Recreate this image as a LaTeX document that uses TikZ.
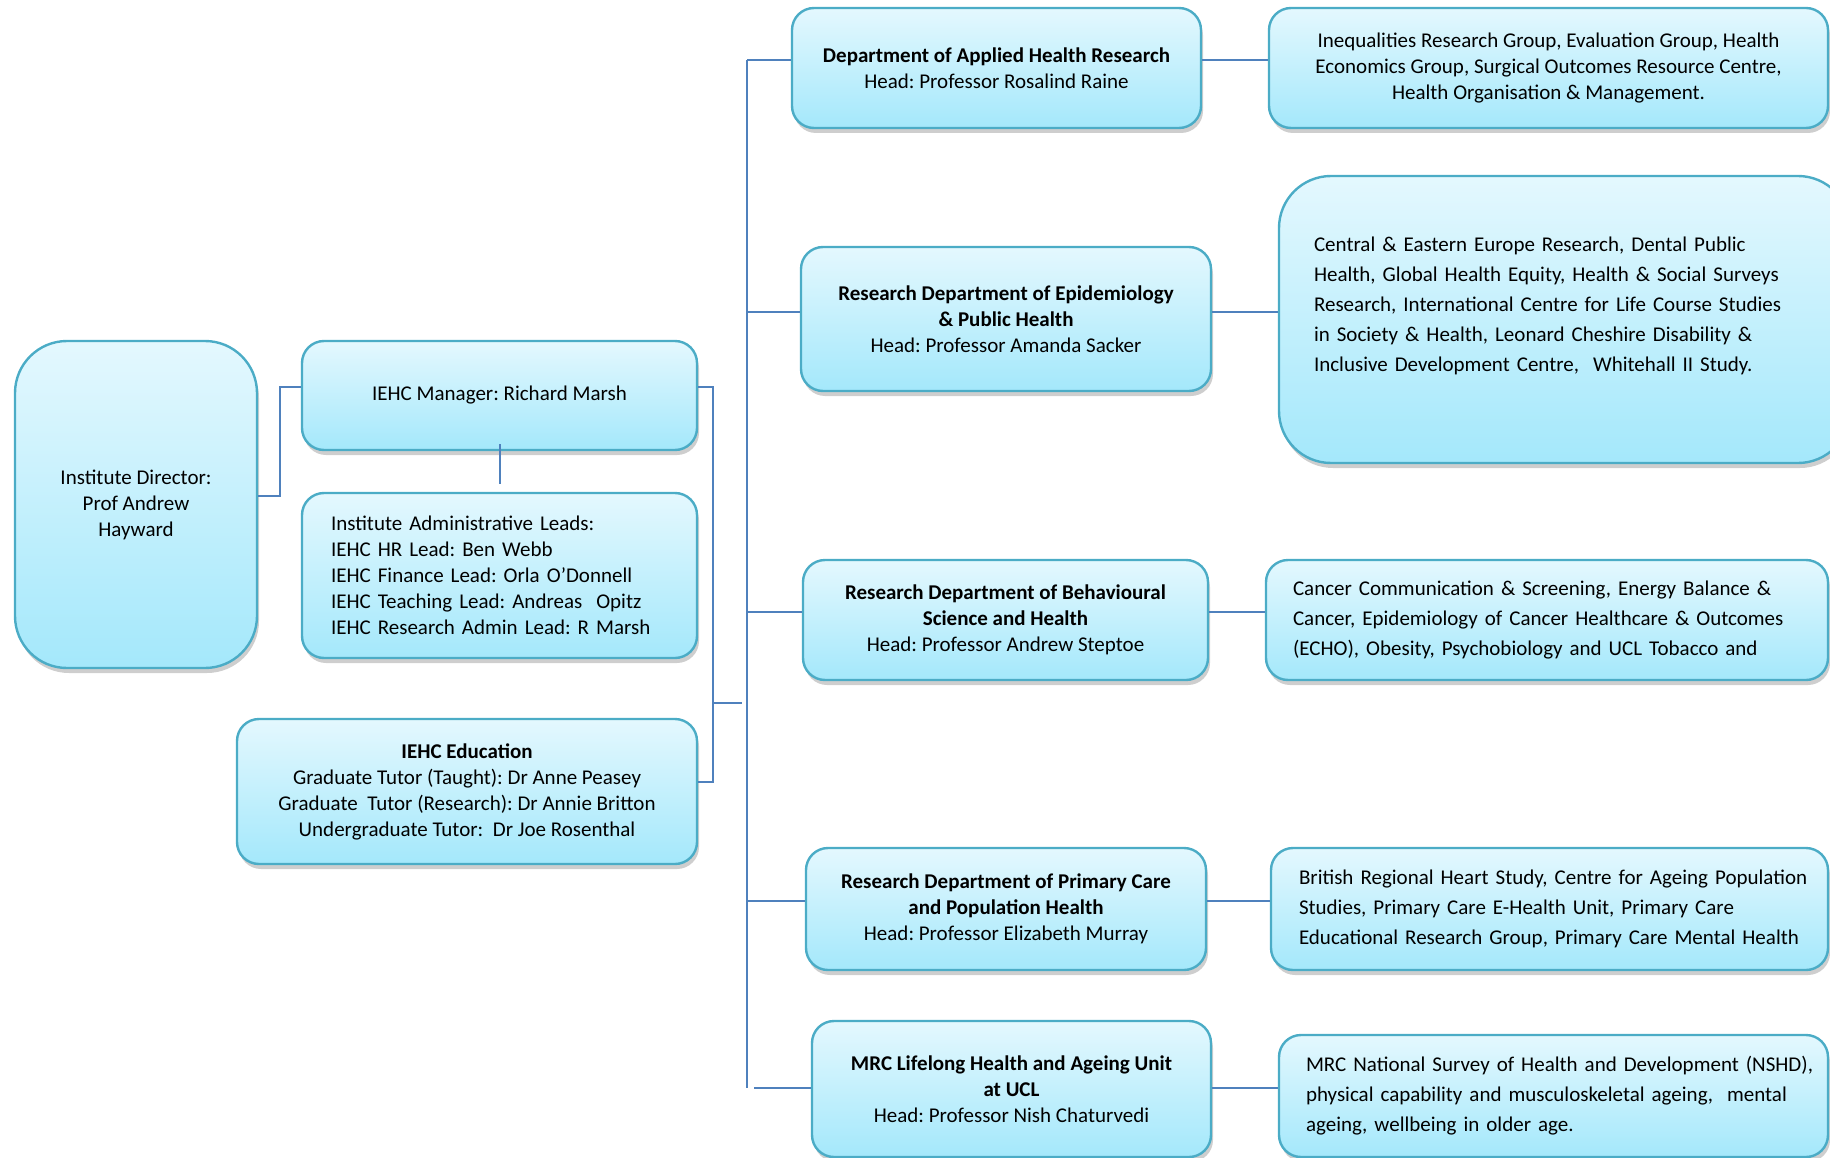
\documentclass[tikz,border=0pt]{standalone}
\usepackage{fontspec}
\setmainfont{Carlito}
\usetikzlibrary{shadows}
\definecolor{boxtop}{HTML}{E4F8FE}
\definecolor{boxbot}{HTML}{A4E8FB}
\definecolor{boxline}{HTML}{4BACC6}
\definecolor{conncol}{HTML}{4F81BD}
\frenchspacing
\begin{document}
\begin{tikzpicture}[x=1pt,y=1pt,
  box/.style={draw=boxline, line width=2.4pt, top color=boxtop, bottom color=boxbot,
    rounded corners=22pt, inner xsep=0pt, inner ysep=0pt, align=center,
    font=\frenchspacing\fontsize{21}{26}\selectfont,
    drop shadow={shadow xshift=2pt,shadow yshift=-5pt,opacity=0.35,fill=black!55}},
  bigbox/.style={box, rounded corners=52pt},
  grp/.style={box, font=\frenchspacing\fontsize{21}{30}\selectfont},
  conn/.style={draw=conncol, line width=2pt}]
\useasboundingbox (0,0) rectangle (1830,-1158);

% left part
\node[bigbox, minimum width=242, minimum height=327] (director) at (136,-504.5)
  {Institute Director:\\Prof Andrew\\Hayward};
\node[box, minimum width=395, minimum height=109] (mgr) at (499.5,-395.5)
  {IEHC Manager: Richard Marsh};
\node[box, minimum width=395, minimum height=165, text width=337, align=left] (admin) at (499.5,-575.5)
  {Institute Administrative Leads:\\IEHC HR Lead: Ben Webb\\IEHC Finance Lead: Orla O’Donnell\\IEHC Teaching Lead: Andreas\ \ Opitz\\IEHC Research Admin Lead: R Marsh};
\node[box, minimum width=460, minimum height=145] (edu) at (467,-791.5)
  {\textbf{IEHC Education}\\Graduate Tutor (Taught): Dr Anne Peasey\\Graduate\ \ Tutor (Research): Dr Annie Britton\\Undergraduate Tutor:\ \ Dr Joe Rosenthal};

% departments
\node[box, minimum width=409, minimum height=120] (applied) at (996.5,-68)
  {\textbf{Department of Applied Health Research}\\Head: Professor Rosalind Raine};
\node[box, minimum width=410, minimum height=144] (epi) at (1006,-319)
  {\textbf{Research Department of Epidemiology}\\\textbf{\& Public Health}\\Head: Professor Amanda Sacker};
\node[box, minimum width=405, minimum height=120] (behav) at (1005.5,-620)
  {\textbf{Research Department of Behavioural}\\\textbf{Science and Health}\\Head: Professor Andrew Steptoe};
\node[box, minimum width=400, minimum height=122] (primary) at (1006,-909)
  {\textbf{Research Department of Primary Care}\\\textbf{and Population Health}\\Head: Professor Elizabeth Murray};
\node[box, minimum width=399, minimum height=136] (mrc) at (1011.5,-1089)
  {\textbf{MRC Lifelong Health and Ageing Unit}\\\textbf{at UCL}\\Head: Professor Nish Chaturvedi};

% groups
\node[box, minimum width=559, minimum height=120] (appliedg) at (1548.5,-68)
  {Inequalities Research Group, Evaluation Group, Health\\Economics Group, Surgical Outcomes Resource Centre,\\Health Organisation \& Management.};
\node[grp, rounded corners=52pt, minimum width=571, minimum height=287, text width=501, align=left] (epig) at (1564.5,-319.5)
  {\mbox{Central \& Eastern Europe Research, Dental Public}\\\mbox{Health, Global Health Equity, Health \& Social Surveys}\\\mbox{Research, International Centre for Life Course Studies}\\\mbox{in Society \& Health, Leonard Cheshire Disability \&}\\\mbox{Inclusive Development Centre,\ \ Whitehall II Study.}\rule[-30pt]{0pt}{0pt}};
\node[grp, minimum width=562, minimum height=120, text width=508, align=left] (behavg) at (1547,-620)
  {\mbox{Cancer Communication \& Screening, Energy Balance \&}\\\mbox{Cancer, Epidemiology of Cancer Healthcare \& Outcomes}\\\mbox{(ECHO), Obesity, Psychobiology and UCL Tobacco and}};
\node[grp, minimum width=557, minimum height=122, text width=501, align=left] (primaryg) at (1549.5,-909)
  {\mbox{British Regional Heart Study, Centre for Ageing Population}\\\mbox{Studies, Primary Care E-Health Unit, Primary Care}\\\mbox{Educational Research Group, Primary Care Mental Health}};
\node[grp, minimum width=549, minimum height=122, text width=495, align=left] (mrcg) at (1553.5,-1096)
  {\mbox{MRC National Survey of Health and Development (NSHD),}\\\mbox{physical capability and musculoskeletal ageing,\ \ mental}\\\mbox{ageing, wellbeing in older age.}};

% connectors left
\draw[conn] ([yshift=8.5pt]director.east) -- ++(22,0) |- ([yshift=8.5pt]mgr.west);
\draw[conn] ([yshift=7pt]mgr.south) -- ([yshift=8pt]admin.north);
\draw[conn] ([yshift=8.5pt]mgr.east) -- ++(15,0) coordinate (bk) |- ([yshift=9.5pt]edu.east);
\coordinate (ttop) at (747,-60);
\coordinate (tbot) at (747,-1088);
\coordinate (bmid) at (712,-703);
\draw[conn] (bmid) -- ([xshift=-5pt]bmid -| ttop);
\draw[conn] (ttop) -- (tbot);

% trunk to departments
\draw[conn] ([yshift=8pt]applied.west) -- ([yshift=8pt]applied.west -| ttop);
\draw[conn] ([yshift=7pt]epi.west) -- ([yshift=7pt]epi.west -| ttop);
\draw[conn] ([yshift=8pt]behav.west) -- ([yshift=8pt]behav.west -| ttop);
\draw[conn] ([yshift=8pt]primary.west) -- ([yshift=8pt]primary.west -| ttop);
\draw[conn] ([yshift=1pt]mrc.west) -- ([yshift=1pt,xshift=7pt]mrc.west -| ttop);

% departments to groups
\draw[conn] ([yshift=8pt]applied.east) -- ([yshift=8pt]appliedg.west);
\draw[conn] ([yshift=7pt]epi.east) -- ([yshift=7.5pt]epig.west);
\draw[conn] ([yshift=8pt]behav.east) -- ([yshift=8pt]behavg.west);
\draw[conn] ([yshift=8pt]primary.east) -- ([yshift=8pt]primaryg.west);
\draw[conn] ([yshift=1pt]mrc.east) -- ([yshift=8pt]mrcg.west);
\end{tikzpicture}
\end{document}
